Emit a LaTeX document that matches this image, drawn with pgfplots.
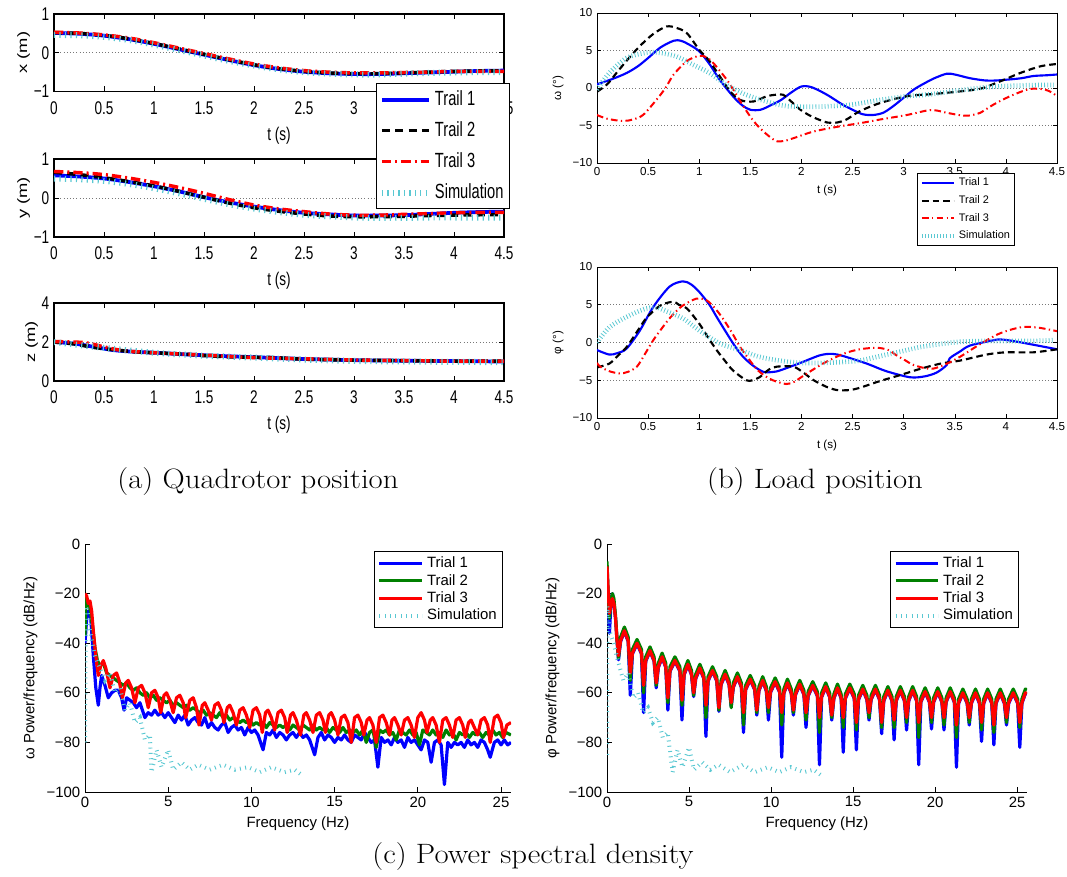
\documentclass[border=0pt]{standalone}
\usepackage{pgfplots}
\pgfplotsset{compat=1.18}
\usepackage{pgfplotstable}
\usepackage{fontspec}
\setsansfont{Liberation Sans}
\definecolor{mblue}{RGB}{0,0,255}
\definecolor{mgreen}{RGB}{0,128,0}
\definecolor{mred}{RGB}{255,0,0}
\definecolor{simc}{RGB}{90,200,210}
\definecolor{gridc}{RGB}{120,120,120}

\tikzset{
  fA/.style={font=\sffamily\fontsize{10.2}{12}\selectfont},
  fB/.style={font=\sffamily\fontsize{8.7}{10}\selectfont},
  fC/.style={font=\sffamily\fontsize{11.2}{13}\selectfont},
}
\pgfplotsset{
  /pgf/number format/assume math mode=true,
  legline/.style={legend image code/.code={\draw[##1] (0pt,0pt) -- (#1,0pt);}},
  styA/.style={scale only axis, anchor=south west, width=337.5pt,
    xmin=0, xmax=4.5,
    xtick={0,0.5,1,1.5,2,2.5,3,3.5,4,4.5},
    xticklabels={0,0.5,1,1.5,2,2.5,3,3.5,4,4.5},
    tick label style={fA, yscale=1.35}, xlabel style={fA, yscale=1.35},
    ylabel style={fA, xscale=1.35}, xlabel={t (s)}, ylabel shift=-4pt,
    xticklabel style={yshift=-2pt},
    ymajorgrids, major grid style={gridc, dotted, line width=0.7pt},
    axis line style={line width=0.8pt}, tick style={black, line width=0.6pt},
    major tick length=4pt, tick align=inside},
  styB/.style={scale only axis, anchor=south west, width=345pt,
    xmin=0, xmax=4.5, ymin=-10, ymax=10,
    xtick={0,0.5,1,1.5,2,2.5,3,3.5,4,4.5},
    xticklabels={0,0.5,1,1.5,2,2.5,3,3.5,4,4.5},
    ytick={-10,-5,0,5,10}, yticklabels={−10,−5,0,5,10},
    tick label style={fB}, label style={fB}, xlabel={t (s)},
    ymajorgrids, major grid style={gridc, dotted, line width=0.6pt},
    axis line style={line width=0.5pt}, tick style={black, line width=0.4pt},
    major tick length=3pt, tick align=inside},
  styC/.style={scale only axis, anchor=south west, height=186pt,
    xmin=0, xmax=25.6, ymin=-100, ymax=0,
    xtick={0,5,10,15,20,25}, xticklabels={0,5,10,15,20,25},
    ytick={-100,-80,-60,-40,-20,0}, yticklabels={−100,−80,−60,−40,−20,0},
    axis x line*=bottom, axis y line*=left, axis line style={-, line width=0.7pt},
    tick style={black, line width=0.5pt}, major tick length=4pt, tick align=inside,
    tick label style={fC}, label style={fC}, xlabel={Frequency (Hz)},
    legend cell align=left, legline=32pt,
    legend style={anchor=north east, font=\sffamily\fontsize{11.2}{12}\selectfont,
      draw=black, line width=0.8pt, fill=white, inner sep=2pt, row sep=-1pt,
      nodes={inner sep=2.2pt}}},
  tA1/.style={mblue, line width=2.8pt, smooth},
  tA2/.style={black, line width=2.6pt, dash pattern=on 6pt off 4pt, smooth},
  tA3/.style={mred, line width=2.6pt, dash pattern=on 7pt off 3pt on 1.5pt off 3pt, smooth},
  tAs/.style={simc, line width=4.5pt, dash pattern=on 0.9pt off 3.2pt, smooth},
  tB1/.style={mblue, line width=1.6pt, smooth},
  tB2/.style={black, line width=1.6pt, dash pattern=on 5pt off 3pt, smooth},
  tB3/.style={mred, line width=1.5pt, dash pattern=on 5pt off 2.5pt on 1pt off 2.5pt, smooth},
  tBs/.style={simc, line width=3.5pt, dash pattern=on 0.6pt off 1.7pt, smooth},
  tC1/.style={mblue, line width=2.4pt, line join=round},
  tC2/.style={mgreen, line width=2.4pt, line join=round},
  tC3/.style={mred, line width=2.4pt, line join=round},
  tCs/.style={simc, line width=3pt, dash pattern=on 0.7pt off 3.3pt},
}

\pgfplotstableread{
f b g r
0.00 -9 -7 -9
0.08 -25 -22 -20
0.15 -36 -30 -28
0.25 -22 -22 -24
0.33 -20 -20 -22
0.42 -24 -22 -24
0.52 -30 -29 -30
0.60 -38 -37 -38
0.70 -46.7 -46 -45
0.83 -39.3 -37.5 -39
1.06 -35.3 -33.5 -35
1.29 -39.3 -37.5 -39
1.42 -61 -55 -52
1.55 -44.3 -42.5 -44
1.83 -40.3 -38.5 -40
2.10 -44.3 -42.5 -44
2.23 -68 -60 -57
2.36 -47.3 -45.5 -47
2.62 -43.3 -41.5 -43
2.87 -47.3 -45.5 -47
3.00 -58 -57 -56
3.13 -49.8 -48 -49.5
3.36 -45.8 -44 -45.5
3.58 -49.8 -48 -49.5
3.71 -67 -64 -62
3.84 -51.3 -49.5 -51
4.14 -47.3 -45.5 -47
4.44 -51.3 -49.5 -51
4.57 -71 -65 -63
4.70 -52.8 -51 -52.5
4.93 -48.8 -47 -48.5
5.15 -52.8 -51 -52.5
5.28 -61.5 -61 -60
5.41 -54.3 -52.5 -54
5.66 -50.3 -48.5 -50
5.90 -54.3 -52.5 -54
6.03 -77.6 -70 -65
6.16 -55.3 -53.5 -55
6.43 -51.3 -49.5 -51
6.69 -55.3 -53.5 -55
6.82 -67.5 -67 -66
6.95 -56.8 -55 -56.5
7.20 -52.8 -51 -52.5
7.44 -56.8 -55 -56.5
7.57 -65.5 -66 -64
7.70 -57.8 -56 -57.5
7.95 -53.8 -52 -53.5
8.19 -57.8 -56 -57.5
8.32 -76 -73 -68
8.45 -58.8 -57 -58.5
8.73 -54.8 -53 -54.5
9.00 -58.8 -57 -58.5
9.13 -69 -68 -67
9.26 -59.3 -57.5 -59
9.49 -55.3 -53.5 -55
9.71 -59.3 -57.5 -59
9.84 -71 -68 -66
9.97 -59.8 -58 -59.5
10.25 -55.8 -54 -55.5
10.52 -59.8 -58 -59.5
10.65 -86 -73 -68
10.78 -60.3 -58.5 -60
11.00 -56.3 -54.5 -56
11.23 -60.3 -58.5 -60
11.36 -69 -68 -67
11.49 -60.8 -59 -60.5
11.75 -56.8 -55 -56.5
12.00 -60.8 -59 -60.5
12.13 -74 -71 -68
12.26 -61.3 -59.5 -61
12.54 -57.3 -55.5 -57
12.82 -61.3 -59.5 -61
12.95 -89 -76 -70
13.08 -61.8 -60 -61.5
13.33 -57.8 -56 -57.5
13.57 -61.8 -60 -61.5
13.70 -71 -70 -69
13.83 -62.3 -60.5 -62
14.05 -58.3 -56.5 -58
14.27 -62.3 -60.5 -62
14.40 -84 -74 -70
14.53 -62.3 -60.5 -62
14.80 -58.3 -56.5 -58
15.07 -62.3 -60.5 -62
15.20 -83 -75 -72
15.33 -62.8 -61 -62.5
15.59 -58.8 -57 -58.5
15.84 -62.8 -61 -62.5
15.97 -71 -70 -68
16.10 -62.8 -61 -62.5
16.36 -58.8 -57 -58.5
16.61 -62.8 -61 -62.5
16.74 -76.5 -74 -72
16.87 -63.3 -61.5 -63
17.12 -59.3 -57.5 -59
17.37 -63.3 -61.5 -63
17.50 -79 -74 -71
17.63 -63.3 -61.5 -63
17.88 -59.3 -57.5 -59
18.13 -63.3 -61.5 -63
18.26 -75 -72 -70
18.39 -63.3 -61.5 -63
18.63 -59.3 -57.5 -59
18.87 -63.3 -61.5 -63
19.00 -89 -78 -72
19.13 -63.8 -62 -63.5
19.39 -59.8 -58 -59.5
19.65 -63.8 -62 -63.5
19.78 -74.6 -72 -70
19.91 -63.8 -62 -63.5
20.16 -59.8 -58 -59.5
20.41 -63.8 -62 -63.5
20.54 -75 -73 -70
20.67 -63.8 -62 -63.5
20.92 -59.8 -58 -59.5
21.17 -63.8 -62 -63.5
21.30 -90 -78 -73
21.43 -64.3 -62.5 -64
21.69 -60.3 -58.5 -60
21.95 -64.3 -62.5 -64
22.08 -73 -72 -70
22.21 -64.3 -62.5 -64
22.46 -60.3 -58.5 -60
22.70 -64.3 -62.5 -64
22.83 -79.6 -75 -72
22.96 -64.3 -62.5 -64
23.20 -60.3 -58.5 -60
23.45 -64.3 -62.5 -64
23.58 -81 -76 -73
23.71 -64.3 -62.5 -64
23.97 -60.3 -58.5 -60
24.22 -64.3 -62.5 -64
24.35 -73 -72 -70
24.48 -64.3 -62.5 -64
24.76 -60.3 -58.5 -60
25.03 -64.3 -62.5 -64
25.16 -82 -74 -72
25.29 -64.3 -62.5 -64
25.50 -60.3 -58.5 -60
25.60 -60.5 -58.8 -60.3
}\phipsd

\begin{document}
\begin{tikzpicture}
\path[use as bounding box] (0,0) rectangle (800.25pt,657pt);

% ---------- (a) y position ----------
\begin{axis}[styA, at={(40.5pt,479.25pt)}, height=58.5pt,
  ymin=-1, ymax=1, ytick={-1,0,1}, yticklabels={−1,0,1}, ylabel={y (m)}]
\addplot[tA1] coordinates {(0,0.58)(0.25,0.55)(0.5,0.5)(0.75,0.41)(1,0.3)(1.25,0.17)(1.5,0.02)(1.75,-0.11)(2,-0.22)(2.25,-0.31)(2.5,-0.38)(2.75,-0.42)(3,-0.45)(3.25,-0.45)(3.5,-0.44)(3.75,-0.41)(4,-0.38)(4.25,-0.36)(4.5,-0.35)};
\addplot[tA2] coordinates {(0,0.66)(0.25,0.6)(0.5,0.52)(0.75,0.42)(1,0.31)(1.25,0.17)(1.5,0.02)(1.75,-0.13)(2,-0.25)(2.25,-0.34)(2.5,-0.41)(2.75,-0.46)(3,-0.48)(3.25,-0.48)(3.5,-0.47)(3.75,-0.45)(4,-0.44)(4.25,-0.43)(4.5,-0.43)};
\addplot[tA3] coordinates {(0,0.68)(0.25,0.65)(0.5,0.6)(0.75,0.51)(1,0.4)(1.25,0.27)(1.5,0.12)(1.75,-0.04)(2,-0.18)(2.25,-0.28)(2.5,-0.35)(2.75,-0.41)(3,-0.44)(3.25,-0.44)(3.5,-0.42)(3.75,-0.4)(4,-0.38)(4.25,-0.37)(4.5,-0.37)};
\addplot[tAs] coordinates {(0,0.5)(0.25,0.48)(0.5,0.44)(0.75,0.36)(1,0.25)(1.25,0.12)(1.5,-0.02)(1.75,-0.16)(2,-0.27)(2.25,-0.36)(2.5,-0.43)(2.75,-0.47)(3,-0.5)(3.25,-0.51)(3.5,-0.51)(3.75,-0.5)(4,-0.5)(4.25,-0.5)(4.5,-0.5)};
\end{axis}

% ---------- (a) z position ----------
\begin{axis}[styA, at={(40.5pt,371.25pt)}, height=58.5pt,
  ymin=0, ymax=4, ytick={0,2,4}, yticklabels={0,2,4}, ylabel={z (m)}]
\addplot[tA1] coordinates {(0,2.0)(0.2,1.92)(0.4,1.75)(0.6,1.58)(0.8,1.5)(1.0,1.45)(1.5,1.32)(2.0,1.22)(2.5,1.13)(3.0,1.07)(3.5,1.04)(4.0,1.02)(4.5,1.0)};
\addplot[tA2] coordinates {(0,2.0)(0.2,1.9)(0.4,1.72)(0.6,1.6)(0.8,1.5)(1.0,1.45)(1.3,1.38)(1.5,1.3)(1.8,1.23)(2.0,1.22)(2.2,1.2)(2.5,1.12)(3.0,1.07)(3.5,1.04)(4.0,1.02)(4.5,1.02)};
\addplot[tA3] coordinates {(0,2.02)(0.3,1.97)(0.5,1.75)(0.7,1.55)(1.0,1.45)(1.5,1.33)(2.0,1.2)(2.5,1.14)(3.0,1.08)(3.5,1.05)(4.0,1.02)(4.5,1.02)};
\addplot[tAs] coordinates {(0,2.0)(0.5,1.7)(1.0,1.45)(1.5,1.3)(2.0,1.2)(2.5,1.1)(3.0,1.03)(3.5,1.0)(4.0,0.98)(4.5,0.97)};
\end{axis}

% ---------- (a) x position (with legend, drawn last) ----------
\begin{axis}[styA, at={(40.5pt,588.375pt)}, height=58.125pt,
  ymin=-1, ymax=1, ytick={-1,0,1}, yticklabels={−1,0,1}, ylabel={x (m)},
  legend cell align=left, legline=35pt,
  legend style={at={(1.0133,0.1097)}, anchor=north east,
    font=\sffamily\fontsize{11}{12}\selectfont, draw=black, line width=0.8pt,
    fill=white, inner sep=2pt, row sep=3pt, nodes={inner sep=2.5pt, yscale=1.4}}]
\addplot[tA1] coordinates {(0,0.51)(0.25,0.49)(0.5,0.44)(0.75,0.35)(1,0.23)(1.25,0.09)(1.5,-0.05)(1.75,-0.19)(2,-0.32)(2.25,-0.42)(2.5,-0.49)(2.75,-0.53)(3,-0.55)(3.25,-0.55)(3.5,-0.53)(3.75,-0.51)(4,-0.49)(4.25,-0.47)(4.5,-0.46)};
\addplot[tA2] coordinates {(0,0.52)(0.25,0.5)(0.5,0.45)(0.75,0.36)(1,0.24)(1.25,0.1)(1.5,-0.04)(1.75,-0.18)(2,-0.31)(2.25,-0.41)(2.5,-0.48)(2.75,-0.52)(3,-0.54)(3.25,-0.54)(3.5,-0.52)(3.75,-0.5)(4,-0.48)(4.25,-0.47)(4.5,-0.47)};
\addplot[tA3] coordinates {(0,0.53)(0.25,0.51)(0.5,0.46)(0.75,0.38)(1,0.26)(1.25,0.12)(1.5,-0.02)(1.75,-0.16)(2,-0.29)(2.25,-0.39)(2.5,-0.46)(2.75,-0.5)(3,-0.52)(3.25,-0.52)(3.5,-0.51)(3.75,-0.5)(4,-0.48)(4.25,-0.48)(4.5,-0.48)};
\addplot[tAs] coordinates {(0,0.46)(0.25,0.45)(0.5,0.41)(0.75,0.33)(1,0.21)(1.25,0.07)(1.5,-0.07)(1.75,-0.21)(2,-0.33)(2.25,-0.43)(2.5,-0.5)(2.75,-0.54)(3,-0.56)(3.25,-0.56)(3.5,-0.54)(3.75,-0.52)(4,-0.51)(4.25,-0.5)(4.5,-0.5)};
\legend{Trail 1,Trail 2,Trail 3,Simulation}
\end{axis}

% ---------- (b) omega ----------
\begin{axis}[styB, at={(447.75pt,534.75pt)}, height=112.5pt, ylabel={ω (°)},
  legend cell align=left, legline=24pt,
  legend style={at={(0.9087,-0.0667)}, anchor=north east,
    font=\sffamily\fontsize{8.2}{9}\selectfont, draw=black, line width=0.6pt,
    fill=white, inner sep=1.5pt, row sep=1.8pt, nodes={inner sep=2pt}}]
\addplot[tB1] coordinates {(0,0.5)(0.15,1.2)(0.29,2.0)(0.4,2.9)(0.5,4.0)(0.62,5.4)(0.75,6.3)(0.82,6.3)(0.9,5.8)(1.0,4.9)(1.1,3.2)(1.2,1.1)(1.33,-1.1)(1.42,-2.3)(1.5,-2.9)(1.6,-2.9)(1.7,-2.3)(1.8,-1.6)(1.9,-0.6)(2.0,0.2)(2.1,0.1)(2.25,-0.9)(2.4,-2.2)(2.5,-2.9)(2.6,-3.5)(2.7,-3.6)(2.8,-3.3)(2.9,-2.4)(3.0,-1.3)(3.1,-0.2)(3.2,0.6)(3.3,1.3)(3.42,1.9)(3.5,1.8)(3.65,1.3)(3.8,1.0)(3.9,1.0)(4.0,1.1)(4.15,1.3)(4.27,1.6)(4.4,1.7)(4.5,1.8)};
\addplot[tB2] coordinates {(0,-0.5)(0.1,0.5)(0.19,2.0)(0.3,3.8)(0.42,5.6)(0.55,7.2)(0.68,8.2)(0.78,8.0)(0.88,7.3)(1.0,5.1)(1.1,3.6)(1.17,2.2)(1.3,-0.4)(1.4,-1.6)(1.53,-1.8)(1.66,-1.1)(1.75,-0.9)(1.82,-0.9)(1.9,-1.8)(1.99,-2.9)(2.1,-3.8)(2.25,-4.6)(2.35,-4.6)(2.44,-4.2)(2.57,-3.1)(2.77,-2.0)(3.03,-1.1)(3.29,-0.8)(3.52,-0.5)(3.75,-0.1)(3.91,0.7)(4.0,1.2)(4.14,2.0)(4.34,2.9)(4.5,3.2)};
\addplot[tB3] coordinates {(0,-3.6)(0.1,-4.1)(0.25,-4.4)(0.35,-4.2)(0.45,-3.6)(0.58,-1.6)(0.67,0)(0.75,1.8)(0.88,3.6)(1.0,4.3)(1.07,4.1)(1.14,3.3)(1.27,1.1)(1.35,-0.6)(1.43,-2.4)(1.52,-4.2)(1.59,-5.3)(1.68,-6.4)(1.76,-7.1)(1.85,-7.0)(1.92,-6.7)(2.12,-5.8)(2.38,-5.1)(2.57,-4.7)(2.77,-4.2)(3.03,-3.6)(3.23,-3.0)(3.32,-3.0)(3.42,-3.3)(3.59,-3.7)(3.67,-3.6)(3.75,-3.3)(3.88,-2.2)(4.04,-1.1)(4.21,-0.2)(4.3,-0.1)(4.38,-0.2)(4.45,-0.6)(4.5,-1.1)};
\addplot[tBs] coordinates {(0,-0.2)(0.12,2.0)(0.29,4.0)(0.48,4.7)(0.61,4.7)(0.78,4.2)(0.94,3.1)(1.1,2.0)(1.27,0.4)(1.46,-0.9)(1.66,-1.8)(1.85,-2.4)(2.12,-2.5)(2.31,-2.4)(2.5,-2.2)(2.77,-1.6)(3.03,-1.1)(3.29,-0.8)(3.55,-0.3)(3.81,0.1)(4.07,0.3)(4.34,0.4)(4.47,0.4)};
\legend{Trial 1,Trail 2,Trail 3,Simulation}
\end{axis}

% ---------- (b) phi ----------
\begin{axis}[styB, at={(447.75pt,343.5pt)}, height=113.25pt, ylabel={φ (°)}]
\addplot[tB1] coordinates {(0,-1.0)(0.12,-1.6)(0.2,-1.4)(0.29,-0.8)(0.42,1.6)(0.55,4.7)(0.71,7.4)(0.84,8.1)(0.92,7.7)(1.0,6.7)(1.1,5.0)(1.17,3.4)(1.27,1.2)(1.35,-0.5)(1.43,-1.9)(1.53,-3.1)(1.63,-3.9)(1.72,-3.9)(1.79,-3.7)(1.99,-2.7)(2.18,-1.7)(2.3,-1.5)(2.41,-1.8)(2.64,-2.8)(2.83,-3.8)(3.06,-4.6)(3.2,-4.5)(3.32,-4.0)(3.42,-3.0)(3.45,-2.1)(3.55,-1.2)(3.65,-0.4)(3.88,0.3)(3.95,0.4)(4.07,0.2)(4.27,-0.3)(4.5,-0.9)};
\addplot[tB2] coordinates {(0,-3.3)(0.12,-2.8)(0.2,-1.8)(0.29,-0.6)(0.4,1.6)(0.48,3.2)(0.58,4.5)(0.65,5.1)(0.75,5.4)(0.8,5.0)(0.88,4.5)(1.0,2.5)(1.08,0.8)(1.17,-1.0)(1.25,-2.4)(1.33,-3.7)(1.46,-5.0)(1.52,-5.0)(1.59,-4.6)(1.68,-3.6)(1.76,-3.2)(1.92,-3.2)(2.02,-4.0)(2.12,-5.0)(2.25,-5.9)(2.35,-6.3)(2.47,-6.3)(2.57,-6.0)(2.77,-5.1)(2.97,-4.3)(3.16,-3.5)(3.36,-2.8)(3.55,-2.4)(3.81,-1.6)(4.0,-1.3)(4.27,-1.3)(4.5,-0.9)};
\addplot[tB3] coordinates {(0,-2.7)(0.03,-3.2)(0.12,-3.8)(0.22,-4.1)(0.3,-3.9)(0.39,-3.2)(0.47,-1.5)(0.55,0.3)(0.63,1.8)(0.71,3.2)(0.78,4.2)(0.84,4.9)(0.97,5.8)(1.07,5.6)(1.15,4.6)(1.23,3.2)(1.32,1.3)(1.4,-0.6)(1.48,-2.1)(1.56,-3.5)(1.64,-4.4)(1.72,-5.0)(1.85,-5.5)(1.93,-5.2)(2.02,-4.4)(2.21,-2.8)(2.41,-1.5)(2.57,-0.9)(2.74,-0.7)(2.85,-1.0)(2.93,-1.7)(3.02,-2.4)(3.1,-3.0)(3.26,-3.5)(3.39,-3.0)(3.55,-1.9)(3.75,-0.2)(3.94,1.2)(4.14,2.0)(4.3,2.0)(4.5,1.5)};
\addplot[tBs] coordinates {(0,0)(0.12,2.0)(0.29,3.4)(0.48,4.5)(0.6,4.6)(0.65,4.3)(0.84,3.2)(1.0,1.6)(1.2,-0.1)(1.4,-1.0)(1.59,-1.9)(1.79,-2.4)(1.99,-2.7)(2.18,-2.7)(2.38,-2.6)(2.57,-2.4)(2.77,-1.8)(2.97,-1.2)(3.16,-0.6)(3.36,-0.2)(3.55,0.1)(3.81,0.2)(4.07,0.2)(4.27,0.2)(4.47,0.3)};
\end{axis}

% ---------- (c) omega PSD ----------
\begin{axis}[styC, at={(63.75pt,63pt)}, width=319.5pt,
  ylabel={ω Power/frequency (dB/Hz)}, legend style={at={(0.981,0.972)}}]
\addplot[tC1] coordinates {(0,-40)(0.1,-30)(0.2,-27)(0.35,-30)(0.5,-45)(0.65,-58)(0.8,-65)(0.9,-58)(1.0,-53)(1.2,-57)(1.4,-62)(1.6,-60)(1.8,-59)(2.0,-59)(2.2,-62)(2.35,-67)(2.5,-62)(2.7,-63)(2.9,-64)(3.1,-66)(3.3,-64)(3.6,-70)(3.8,-68)(4.0,-69)(4.2,-67)(4.4,-69)(4.6,-68)(4.8,-70)(5.0,-68)(5.2,-70)(5.4,-72)(5.6,-69)(5.8,-71)(6.0,-69)(6.2,-73)(6.4,-71)(6.6,-70)(6.8,-72)(7.0,-73)(7.2,-70)(7.4,-74)(7.6,-72)(7.8,-74)(8.0,-75)(8.2,-73)(8.4,-72)(8.6,-76)(8.8,-74)(9.0,-73)(9.2,-75)(9.4,-74)(9.6,-77)(9.8,-74)(10.0,-76)(10.2,-75)(10.4,-77)(10.7,-83)(10.9,-76)(11.1,-77)(11.3,-75)(11.5,-78)(11.7,-76)(11.9,-77)(12.1,-79)(12.3,-77)(12.5,-76)(12.7,-78)(12.9,-76)(13.1,-78)(13.3,-77)(13.5,-79)(13.8,-85)(14.0,-78)(14.2,-76)(14.4,-79)(14.6,-77)(14.8,-78)(15.0,-80)(15.2,-78)(15.4,-79)(15.6,-77)(15.8,-79)(16.0,-80)(16.2,-77)(16.4,-78)(16.6,-79)(16.8,-76)(17.0,-78)(17.2,-80)(17.4,-79)(17.6,-90)(17.8,-78)(18.0,-80)(18.2,-79)(18.4,-81)(18.6,-78)(18.8,-80)(19.0,-79)(19.2,-82)(19.4,-78)(19.6,-80)(19.8,-79)(20.0,-81)(20.2,-83)(20.4,-79)(20.6,-80)(20.8,-88)(21.0,-80)(21.2,-79)(21.4,-81)(21.6,-97)(21.8,-80)(22.0,-82)(22.2,-80)(22.4,-81)(22.6,-80)(22.8,-82)(23.0,-79)(23.2,-81)(23.4,-80)(23.6,-82)(23.8,-79)(24.0,-80)(24.2,-83)(24.35,-86)(24.6,-80)(24.8,-79)(25.0,-81)(25.2,-79)(25.4,-81)(25.6,-80)};
\addplot[tC2] coordinates {(0,-37)(0.05,-22)(0.15,-24)(0.3,-26)(0.45,-33)(0.6,-42)(0.75,-47)(0.9,-49)(1.1,-48)(1.3,-52)(1.5,-53)(1.7,-54)(1.9,-55)(2.1,-56)(2.3,-57)(2.5,-56)(2.7,-58)(2.9,-59)(3.1,-58)(3.3,-60)(3.5,-61)(3.7,-60)(3.9,-62)(4.1,-61)(4.3,-63)(4.5,-62)(4.7,-63)(4.9,-64)(5.1,-63)(5.3,-65)(5.5,-64)(5.7,-65)(5.9,-66)(6.1,-65)(6.3,-67)(6.5,-66)(6.7,-67)(6.9,-68)(7.1,-67)(7.3,-69)(7.5,-68)(7.7,-69)(7.9,-70)(8.1,-68)(8.3,-70)(8.5,-69)(8.7,-71)(8.9,-70)(9.1,-71)(9.3,-72)(9.5,-71)(9.7,-72)(9.9,-71)(10.1,-73)(10.3,-72)(10.5,-73)(10.7,-72)(10.9,-74)(11.1,-72)(11.3,-73)(11.5,-74)(11.7,-73)(11.9,-74)(12.1,-73)(12.3,-75)(12.5,-73)(12.7,-74)(12.9,-75)(13.1,-73)(13.3,-74)(13.5,-75)(13.7,-73)(13.9,-75)(14.1,-74)(14.3,-75)(14.5,-74)(14.7,-76)(14.9,-74)(15.1,-75)(15.3,-76)(15.5,-74)(15.7,-76)(15.9,-75)(16.1,-76)(16.3,-75)(16.5,-77)(16.7,-75)(16.9,-80)(17.1,-76)(17.3,-75)(17.5,-82)(17.7,-75)(17.9,-76)(18.1,-75)(18.3,-77)(18.5,-76)(18.7,-79)(18.9,-75)(19.1,-76)(19.3,-77)(19.5,-75)(19.7,-77)(19.9,-76)(20.1,-81)(20.3,-75)(20.5,-76)(20.7,-77)(20.9,-75)(21.1,-77)(21.3,-76)(21.5,-78)(21.7,-75)(21.9,-77)(22.1,-76)(22.3,-79)(22.5,-76)(22.7,-77)(22.9,-76)(23.1,-78)(23.3,-76)(23.5,-77)(23.7,-76)(23.9,-78)(24.1,-76)(24.3,-77)(24.5,-75)(24.7,-77)(24.9,-76)(25.1,-78)(25.3,-76)(25.6,-77)};
\addplot[tC3] coordinates {(0,-20)(0.1,-21)(0.2,-24)(0.3,-23)(0.4,-27)(0.5,-35)(0.6,-42)(0.7,-48)(0.8,-53)(0.95,-49)(1.1,-47)(1.25,-50)(1.5,-58)(1.7,-53)(1.9,-52)(2.05,-55)(2.25,-62)(2.45,-56)(2.6,-55)(2.8,-58)(3.0,-64)(3.2,-58)(3.4,-57)(3.6,-60)(3.8,-66)(4.0,-60)(4.2,-59)(4.4,-62)(4.55,-68)(4.75,-61)(4.9,-60)(5.1,-63)(5.3,-68)(5.5,-62)(5.7,-61)(5.9,-64)(6.05,-70)(6.3,-63)(6.5,-62)(6.7,-66)(6.85,-73)(7.05,-65)(7.2,-64)(7.4,-67)(7.6,-71)(7.8,-65)(8.0,-64)(8.2,-67)(8.35,-72)(8.55,-66)(8.7,-65)(8.9,-68)(9.1,-73)(9.3,-67)(9.5,-66)(9.7,-69)(9.9,-74)(10.1,-67)(10.3,-66)(10.5,-69)(10.65,-76)(10.85,-68)(11.0,-67)(11.2,-70)(11.4,-75)(11.6,-68)(11.8,-67)(12.0,-70)(12.15,-76)(12.35,-69)(12.5,-68)(12.7,-71)(12.95,-77)(13.15,-69)(13.3,-68)(13.5,-71)(13.7,-76)(13.9,-69)(14.1,-68)(14.3,-71)(14.45,-76)(14.65,-69)(14.8,-68)(15.0,-71)(15.2,-77)(15.4,-70)(15.6,-69)(15.8,-72)(16.0,-80)(16.2,-70)(16.4,-69)(16.6,-72)(16.75,-77)(16.95,-71)(17.1,-70)(17.3,-73)(17.5,-80)(17.7,-70)(17.9,-69)(18.1,-72)(18.3,-77)(18.45,-71)(18.6,-70)(18.8,-73)(19.0,-77)(19.2,-71)(19.4,-70)(19.6,-73)(19.8,-78)(20.0,-70)(20.2,-68)(20.4,-71)(20.55,-76)(20.75,-71)(20.9,-70)(21.1,-73)(21.3,-80)(21.5,-71)(21.7,-70)(21.9,-73)(22.1,-78)(22.3,-71)(22.5,-70)(22.7,-73)(22.85,-78)(23.05,-72)(23.2,-71)(23.4,-74)(23.6,-77)(23.8,-71)(24.0,-70)(24.2,-73)(24.35,-80)(24.6,-70)(24.8,-69)(25.0,-72)(25.15,-78)(25.35,-73)(25.6,-72)};
\addplot[tCs] coordinates {(0,-80)(0.05,-25)(0.15,-27)(0.3,-35)(0.6,-45)(0.9,-50)(1.2,-55)(1.5,-52)(1.8,-60)(2.1,-58)(2.4,-67)(2.7,-64)(3.0,-72)(3.3,-70)(3.6,-79)(3.9,-77)(4.0,-92)(4.3,-83)(4.6,-90)(5.0,-83)(5.3,-91)(5.8,-88)(6.3,-91)(6.8,-89)(7.5,-91)(8.3,-89)(9.0,-91)(9.8,-90)(10.5,-92)(11.2,-90)(12.0,-92)(12.6,-91)(13.0,-93)};
\legend{Trial 1,Trail 2,Trial 3,Simulation}
\end{axis}

% ---------- (c) phi PSD ----------
\begin{axis}[styC, at={(455.25pt,63pt)}, width=315pt,
  ylabel={φ Power/frequency (dB/Hz)}, legend style={at={(0.981,0.972)}}]
\addplot[tC1] table[x=f,y=b] {\phipsd};
\addplot[tC2] table[x=f,y=g] {\phipsd};
\addplot[tC3] table[x=f,y=r] {\phipsd};
\addplot[tCs] coordinates {(0,-85)(0.02,-25)(0.15,-35)(0.4,-40)(0.7,-48)(1.0,-55)(1.3,-52)(1.6,-62)(1.9,-60)(2.2,-68)(2.5,-66)(2.8,-72)(3.1,-70)(3.4,-78)(3.7,-76)(4.0,-92)(4.3,-83)(4.6,-90)(5.0,-82)(5.3,-91)(5.8,-88)(6.3,-91)(6.8,-89)(7.5,-92)(8.3,-89)(9.0,-92)(9.8,-90)(10.5,-92)(11.2,-90)(12.0,-92)(12.6,-91)(13.0,-93)};
\legend{Trial 1,Trail 2,Trial 3,Simulation}
\end{axis}

% ---------- captions ----------
\node[font=\fontsize{21}{24}\selectfont, xscale=1.1] at (193.5pt,295.5pt) {(a) Quadrotor position};
\node[font=\fontsize{21}{24}\selectfont, xscale=1.1] at (611.25pt,295.5pt) {(b) Load position};
\node[font=\fontsize{21}{24}\selectfont, xscale=1.1] at (399.75pt,14.25pt) {(c) Power spectral density};
\end{tikzpicture}
\end{document}
